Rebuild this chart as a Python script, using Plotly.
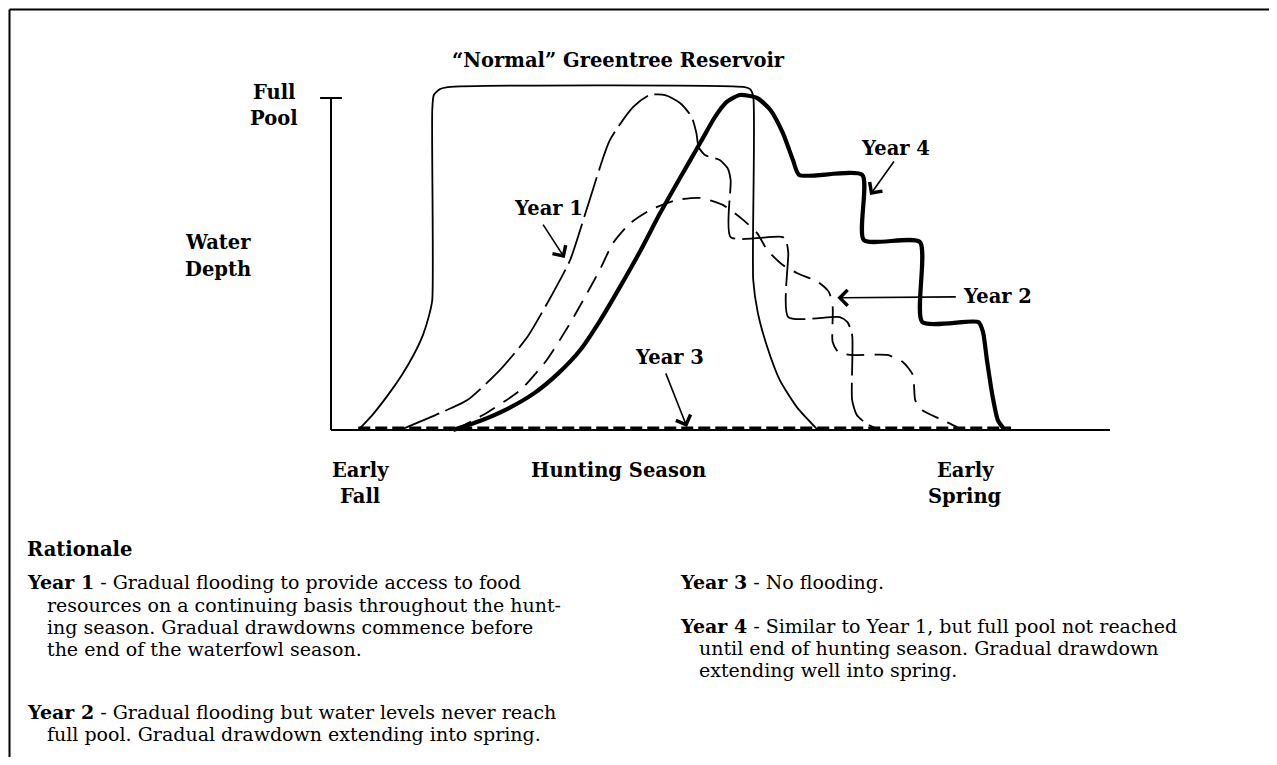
import plotly.graph_objects as go

# ---------------- data (x: season time 0-100, y: % of full pool) ----------------
normal_x = [3.5, 5.3, 7.3, 9.1, 10.6, 11.8, 12.6, 13.0, 13.0, 13.2, 14.0, 15.0, 53.1, 53.8, 54.2, 54.2, 54.8, 56.0, 57.6, 59.8, 62.5]
normal_y = [0, 4.5, 10.5, 16.6, 22.6, 28.6, 34.6, 39.2, 96.4, 100.9, 102.7, 103.3, 103.3, 102.7, 100.6, 45.2, 35.2, 25.0, 15.1, 6.9, 0]

year1_x = [8.9, 14.0, 17.5, 21.7, 25.2, 28.5, 30.7, 33.2, 35.8, 38.8, 40.9, 42.9, 44.8, 46.3, 46.9, 47.2, 48.0, 49.9, 50.9, 51.3,
           51.3, 58.0, 58.5, 58.7, 58.7, 65.3, 66.3, 66.9, 66.9, 67.5, 68.8, 70.5]
year1_y = [0, 5.1, 9.0, 18.1, 28.0, 41.3, 51.2, 69.3, 87.3, 97.3, 100.9, 100.9, 98.5, 94.3, 89.5, 85.2, 82.8, 81.3, 78.9, 75.3,
           58.1, 58.1, 56.3, 53.3, 34.0, 34.0, 32.5, 28.6, 9.0, 4.5, 1.8, 0]

year2_x = [15.9, 19.5, 24.3, 27.7, 30.7, 32.9, 34.5, 36.2, 38.4, 41.0, 44.4, 47.4, 50.3, 52.9, 54.7, 56.0, 58.0, 59.8, 62.5,
           63.9, 64.4, 64.4, 65.1, 66.6, 71.4, 73.4, 74.7, 75.0, 75.9, 78.2, 80.1, 81.0]
year2_y = [0, 4.5, 12.0, 21.1, 32.2, 41.3, 48.2, 56.3, 62.3, 66.3, 69.3, 69.9, 67.8, 63.3, 59.3, 54.2, 49.7, 47.3, 44.6,
           41.6, 37.0, 26.5, 23.5, 22.6, 22.6, 20.5, 16.6, 9.0, 6.0, 3.3, 1.2, 0]

year3_x = [3.5, 87.3]
year3_y = [0.6, 0.6]

year4_x = [15.7, 19.1, 22.6, 26.1, 29.1, 32.0, 34.5, 37.1, 39.7, 42.2, 44.8, 47.4, 49.3, 50.8, 52.5, 54.7, 56.4, 58.0, 59.3, 60.1,
           68.2, 68.4, 75.6, 75.9, 83.1, 83.7, 84.2, 84.9, 85.6, 86.5]
year4_y = [0, 2.7, 6.3, 11.1, 16.9, 24.1, 32.8, 43.1, 53.9, 65.1, 75.9, 86.5, 94.3, 98.8, 100.9, 100.0, 96.4, 89.5, 81.3, 76.8,
           76.8, 57.2, 56.6, 32.5, 32.5, 29.5, 21.1, 10.5, 3.0, 0]

# label anchor points (data coords) and arrow tails/tips
year_labels = ["Year 1", "Year 2", "Year 3", "Year 4"]
label_x = [27.9, 85.5, 43.4, 72.5]
label_y = [66.6, 40.1, 21.7, 84.9]
arrow_tail_x = [27.1, 80.4, 42.9, 72.4]
arrow_tail_y = [62.3, 40.1, 17.5, 81.3]
arrow_tip_x = [30.0, 65.0, 45.7, 69.2]
arrow_tip_y = [51.8, 39.8, 0.9, 70.8]

title_text = "\u201cNormal\u201d Greentree Reservoir"
season_labels = [["Early", "Fall"], ["Hunting Season"], ["Early", "Spring"]]

left_col = [("<b>Year 1</b> - Gradual flooding to provide access to food", 0),
            ("resources on a continuing basis throughout the hunt-", 1),
            ("ing season. Gradual drawdowns commence before", 1),
            ("the end of the waterfowl season.", 1),
            ("<b>Year 2</b> - Gradual flooding but water levels never reach", 0),
            ("full pool. Gradual drawdown extending into spring.", 1)]
right_col = [("<b>Year 3</b> - No flooding.", 0),
             ("<b>Year 4</b> - Similar to Year 1, but full pool not reached", 0),
             ("until end of hunting season. Gradual drawdown", 1),
             ("extending well into spring.", 1)]

# ---------------- layout geometry (page pixel frame) ----------------
PAGE_OFF = 8                      # default body margin of the html page
W, H = 1261, 749                  # figure size
PLOT_LEFT, PLOT_RIGHT, PLOT_TOP, PLOT_BOTTOM = 292, 1149, 60, 440   # page px
PX_X = 7.79   # px per x unit
PX_Y = 3.32   # px per y unit
ORIGIN_PX = (331, 430)
plot_w = PLOT_RIGHT - PLOT_LEFT
plot_h = PLOT_BOTTOM - PLOT_TOP
x_range = [(PLOT_LEFT - ORIGIN_PX[0]) / PX_X, (PLOT_RIGHT - ORIGIN_PX[0]) / PX_X]
y_range = [-(PLOT_BOTTOM - ORIGIN_PX[1]) / PX_Y, (ORIGIN_PX[1] - PLOT_TOP) / PX_Y]
margin = dict(l=PLOT_LEFT - PAGE_OFF, r=W - (PLOT_RIGHT - PAGE_OFF),
              t=PLOT_TOP - PAGE_OFF, b=H - (PLOT_BOTTOM - PAGE_OFF), pad=0)


def paper(px, py):
    return (px - PLOT_LEFT) / plot_w, (PLOT_BOTTOM - py) / plot_h


FONT = "DejaVu Serif"
BLACK = "#000000"
LABEL_SIZE = 19.5
BODY_SIZE = 19

fig = go.Figure()

fig.add_trace(go.Scatter(x=normal_x, y=normal_y, mode="lines",
                         line=dict(color=BLACK, width=1.8, shape="spline", smoothing=0.6)))
fig.add_trace(go.Scatter(x=year1_x, y=year1_y, mode="lines",
                         line=dict(color=BLACK, width=1.8, dash="42px,7px", shape="spline", smoothing=0.6)))
fig.add_trace(go.Scatter(x=year2_x, y=year2_y, mode="lines",
                         line=dict(color=BLACK, width=1.8, dash="18px,10px", shape="spline", smoothing=0.6)))
fig.add_trace(go.Scatter(x=year3_x, y=year3_y, mode="lines",
                         line=dict(color=BLACK, width=3, dash="12px,5px")))
fig.add_trace(go.Scatter(x=year4_x, y=year4_y, mode="lines",
                         line=dict(color=BLACK, width=4.2, shape="spline", smoothing=0.6)))

shapes = []
# axes
shapes.append(dict(type="line", xref="x", yref="y", x0=0, y0=0, x1=0, y1=100, line=dict(color=BLACK, width=2)))
shapes.append(dict(type="line", xref="x", yref="y", x0=0, y0=0, x1=100, y1=0, line=dict(color=BLACK, width=2)))
shapes.append(dict(type="line", xref="x", yref="y", x0=-1.4, y0=100, x1=1.4, y1=100, line=dict(color=BLACK, width=2)))
# outer frame: left and top edges
fl, ft = paper(PAGE_OFF + 1.5, PAGE_OFF + 1.5)
fr, fb = paper(PAGE_OFF + W + 20, PAGE_OFF + H + 20)
shapes.append(dict(type="line", xref="paper", yref="paper", x0=fl, y0=ft, x1=fr, y1=ft, line=dict(color=BLACK, width=2)))
shapes.append(dict(type="line", xref="paper", yref="paper", x0=fl, y0=ft, x1=fl, y1=fb, line=dict(color=BLACK, width=2)))

ann = []


def text(px, py, s, size=BODY_SIZE, xanchor="center"):
    x, y = paper(px, py)
    ann.append(dict(x=x, y=y, xref="paper", yref="paper", text=s, showarrow=False,
                    xanchor=xanchor, yanchor="middle",
                    font=dict(family=FONT, size=size, color=BLACK)))


# title and axis labels
text(618, 60, "<b>" + title_text + "</b>", size=LABEL_SIZE)
text(274, 92, "<b>Full</b>", size=LABEL_SIZE)
text(274, 118, "<b>Pool</b>", size=LABEL_SIZE)
text(218, 242, "<b>Water</b>", size=LABEL_SIZE)
text(218, 269, "<b>Depth</b>", size=LABEL_SIZE)

# season labels
for lines, cx in zip(season_labels, [360, 618, 965]):
    for i, s in enumerate(lines):
        text(cx, 470 + 27 * i, "<b>" + s + "</b>", size=LABEL_SIZE)

# year labels with arrows
for lab, lx, ly, tx, ty, hx, hy in zip(year_labels, label_x, label_y, arrow_tail_x, arrow_tail_y, arrow_tip_x, arrow_tip_y):
    ann.append(dict(x=lx, y=ly, xref="x", yref="y", text="<b>" + lab + "</b>", showarrow=False,
                    font=dict(family=FONT, size=LABEL_SIZE, color=BLACK)))
    ann.append(dict(x=hx, y=hy, xref="x", yref="y", ax=tx, ay=ty, axref="x", ayref="y", text="",
                    showarrow=True, arrowhead=4, arrowsize=1.9, arrowwidth=1.6, arrowcolor=BLACK))

# rationale text
text(25, 549, "<b>Rationale</b>", size=LABEL_SIZE, xanchor="left")
left_y = [582, 605, 627, 649, 712, 734]
for (s, indent), y in zip(left_col, left_y):
    text(25 + 20 * indent, y, s, xanchor="left")
right_y = [582, 626, 648, 670]
for (s, indent), y in zip(right_col, right_y):
    text(678 + 19 * indent, y, s, xanchor="left")

fig.update_layout(
    width=W, height=H,
    margin=margin,
    paper_bgcolor="white", plot_bgcolor="white",
    showlegend=False,
    xaxis=dict(range=x_range, visible=False, fixedrange=True),
    yaxis=dict(range=y_range, visible=False, fixedrange=True),
    shapes=shapes, annotations=ann,
)

fig.write_html("out.html")
